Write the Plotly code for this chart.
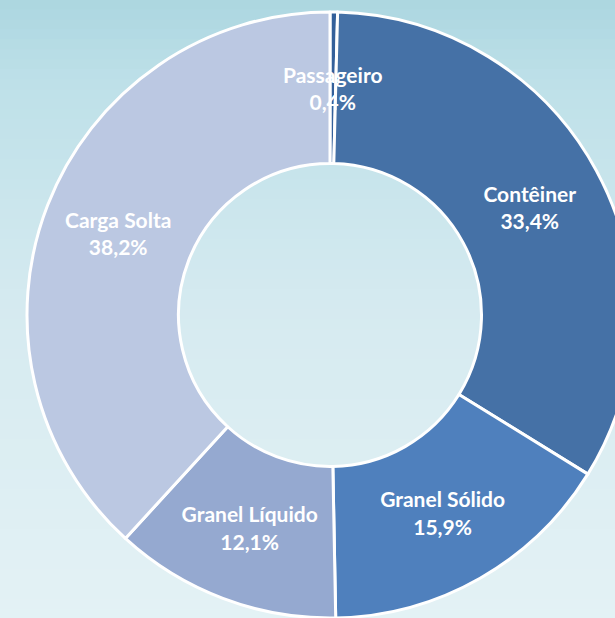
import math
import plotly.graph_objects as go

labels = ["Passageiro", "Contêiner", "Granel Sólido", "Granel Líquido", "Carga Solta"]
values = [0.4, 33.4, 15.9, 12.1, 38.2]
colors = ["#34609a", "#4571a6", "#4f80bd", "#95a9d0", "#bbc8e2"]

W, H = 660, 630
cx, cy, r = 330, 315, 303
HOLE = 0.5
FONT = dict(family="Lato", size=21, color="white", weight="bold")

fig = go.Figure()

# background gradient (style only)
anchors = [(0, (172, 214, 224)), (80, (189, 224, 232)), (300, (213, 234, 240)), (630, (228, 242, 245))]
n = 63
for i in range(n):
    y0 = i * H / n
    y1 = (i + 1) * H / n
    ym = (y0 + y1) / 2
    for (a, ca), (b, cb) in zip(anchors[:-1], anchors[1:]):
        if a <= ym <= b:
            t = (ym - a) / (b - a)
            c = tuple(round(ca[k] + (cb[k] - ca[k]) * t) for k in range(3))
            break
    fig.add_shape(type="rect", xref="paper", yref="paper", x0=0, x1=1,
                  y0=1 - y1 / H - 0.001, y1=1 - y0 / H + 0.001,
                  fillcolor="rgb(%d,%d,%d)" % c, line_width=0, layer="below")

total = sum(values)
# tiny first slice: label drawn as annotation at the slice's mid angle / mid radius
templates = ["" if v / total < 0.02 else "%{label}<br>%{percent:.1%}" for v in values]

fig.add_trace(go.Pie(
    labels=labels, values=values, sort=False, direction="clockwise", rotation=0,
    hole=HOLE,
    marker=dict(colors=colors, line=dict(color="white", width=3)),
    texttemplate=templates,
    textposition="inside", insidetextorientation="horizontal",
    textfont=FONT,
    domain=dict(x=[(cx - r) / W, (cx + r) / W], y=[1 - (cy + r) / H, 1 - (cy - r) / H]),
    showlegend=False,
))

cum = 0
for lab, v, tpl in zip(labels, values, templates):
    if tpl == "":
        ang = 2 * math.pi * (cum + v / 2) / total
        rr = r * (1 + HOLE) / 2
        px = cx + rr * math.sin(ang)
        py = cy - rr * math.cos(ang)
        pct = ("%.1f%%" % (100 * v / total)).replace(".", ",")
        fig.add_annotation(x=px / W, y=1 - py / H, xref="paper", yref="paper",
                           xanchor="center", yanchor="middle",
                           text=lab + "<br>" + pct, showarrow=False, font=FONT)
    cum += v

fig.update_layout(
    width=W, height=H, margin=dict(l=0, r=0, t=0, b=0),
    paper_bgcolor="#d8ecf1", plot_bgcolor="rgba(0,0,0,0)",
    separators=",.",
    uniformtext=dict(minsize=21, mode="show"),
)

fig.write_html("out.html", config={"displayModeBar": False},
               post_script="document.body.style.margin='0';document.body.style.overflow='hidden';document.documentElement.style.overflow='hidden';")
